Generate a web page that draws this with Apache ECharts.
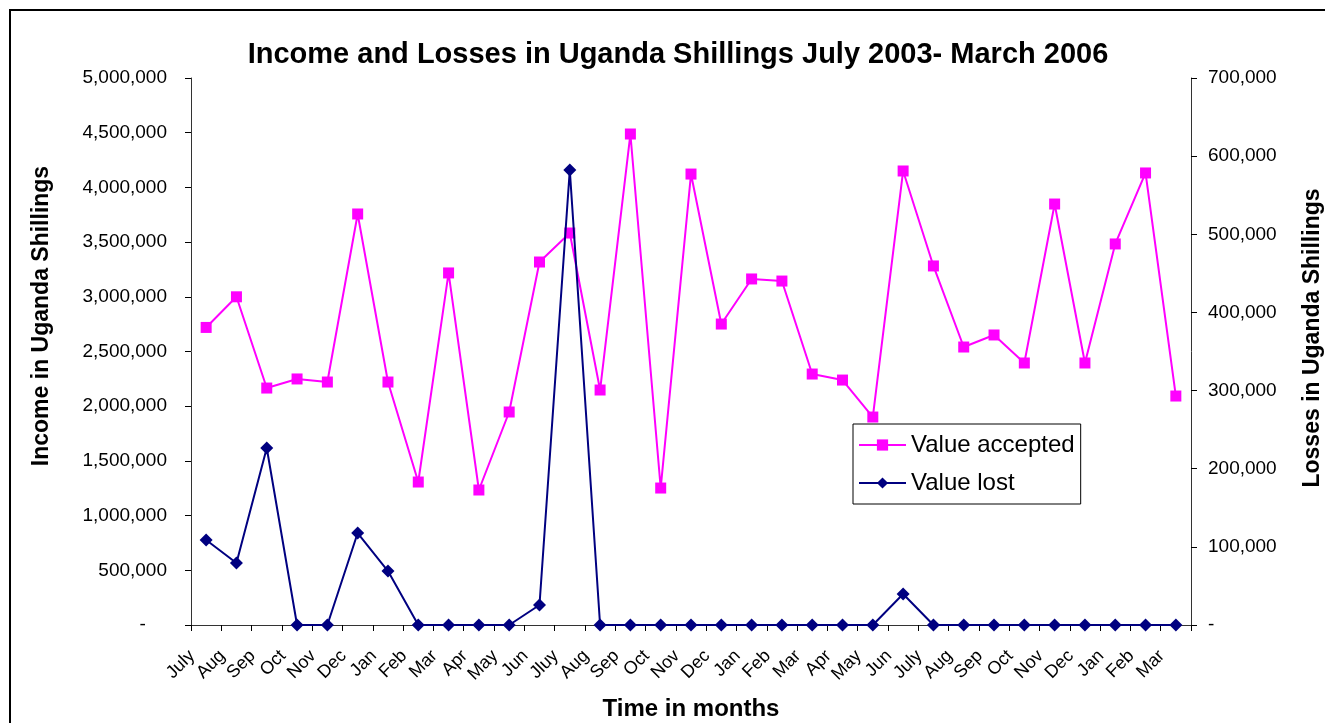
<!DOCTYPE html>
<html><head><meta charset="utf-8">
<script src="https://cdn.jsdelivr.net/npm/echarts@6/dist/echarts.min.js"></script>
<style>html,body{margin:0;padding:0;background:#fff;overflow:hidden;width:1325px;height:723px}#c{width:1325px;height:723px}</style>
</head><body><div id="c"></div>
<script>
const months = ['July','Aug','Sep','Oct','Nov','Dec','Jan','Feb','Mar','Apr','May','Jun','Jluy','Aug','Sep','Oct','Nov','Dec','Jan','Feb','Mar','Apr','May','Jun','July','Aug','Sep','Oct','Nov','Dec','Jan','Feb','Mar'];
const valueAccepted = [2720000,3000000,2166000,2249000,2221000,3757000,2221000,1307000,3218000,1234000,1947000,3318000,3583000,2148000,4488000,1252000,4122000,2751000,3163000,3144000,2294000,2239000,1901000,4150000,3282000,2541000,2651000,2395000,3848000,2395000,3483000,4132000,2093000];
const valueLost = [108800,79300,226500,0,0,117700,69100,0,0,0,0,25600,582300,0,0,0,0,0,0,0,0,0,0,39700,0,0,0,0,0,0,0,0,0];
const leftTicks = {min:0,max:5000000,interval:500000};
const rightTicks = {min:0,max:700000,interval:100000};

const FONT = '"Liberation Sans", Arial, sans-serif';
const fmtL = v => v === 0 ? '-    ' : v.toLocaleString('en-US');
const fmtR = v => v === 0 ? '-' : v.toLocaleString('en-US');
const chart = echarts.init(document.getElementById('c'), null, {width:1325,height:723});
chart.setOption({
  animation:false,
  textStyle:{fontFamily:FONT,color:'#000'},
  title:{text:'Income and Losses in Uganda Shillings July 2003- March 2006',left:673,textAlign:'center',top:35,
    textStyle:{fontFamily:FONT,fontSize:29,fontWeight:'bold',color:'#000'}},
  graphic:[
    {type:'rect',shape:{x:10,y:10,width:1340,height:740},style:{fill:'none',stroke:'#000',lineWidth:2},silent:true},
    {type:'text',x:42,y:316,rotation:Math.PI/2,style:{text:'Income in Uganda Shillings',font:'bold 23px '+FONT,fill:'#000',textAlign:'center',textVerticalAlign:'middle'}},
    {type:'text',x:1313,y:338,rotation:Math.PI/2,style:{text:'Losses in Uganda Shillings',font:'bold 23px '+FONT,fill:'#000',textAlign:'center',textVerticalAlign:'middle'}}
  ],
  legend:{left:853,top:424,orient:'vertical',itemGap:14,padding:[9,6,9,5],borderColor:'#000',borderWidth:1,
    itemWidth:47,itemHeight:14,textStyle:{fontFamily:FONT,fontSize:24,color:'#000'},
    data:['Value accepted','Value lost']},
  grid:{left:191,right:134,top:78,bottom:98,containLabel:false,outerBoundsMode:'none'},
  xAxis:{type:'category',data:months,boundaryGap:true,
    name:'Time in months',nameLocation:'middle',nameGap:72,
    nameTextStyle:{fontFamily:FONT,fontSize:24,fontWeight:'bold',color:'#000'},
    axisLine:{lineStyle:{color:'#333',width:1}},
    axisTick:{show:true,alignWithLabel:false,length:6,lineStyle:{color:'#000'}},
    axisLabel:{rotate:45,interval:0,fontSize:18,color:'#000',margin:14,fontFamily:FONT,formatter:v => v + '    '}},
  yAxis:[
    {type:'value',min:leftTicks.min,max:leftTicks.max,interval:leftTicks.interval,position:'left',
     axisLine:{show:true,lineStyle:{color:'#333'}},axisTick:{show:true,length:6,lineStyle:{color:'#000'}},
     splitLine:{show:false},
     axisLabel:{formatter:fmtL,fontSize:19,color:'#000',margin:24,fontFamily:FONT}},
    {type:'value',min:rightTicks.min,max:rightTicks.max,interval:rightTicks.interval,position:'right',
     axisLine:{show:true,lineStyle:{color:'#333'}},axisTick:{show:true,length:6,lineStyle:{color:'#000'}},
     splitLine:{show:false},
     axisLabel:{formatter:fmtR,fontSize:19,color:'#000',margin:17,fontFamily:FONT}}
  ],
  series:[
    {name:'Value accepted',type:'line',yAxisIndex:0,data:valueAccepted,symbol:'rect',symbolSize:11,
     lineStyle:{color:'#FF00FF',width:2},itemStyle:{color:'#FF00FF'},z:2},
    {name:'Value lost',type:'line',yAxisIndex:1,data:valueLost,symbol:'diamond',symbolSize:13,
     lineStyle:{color:'#000080',width:2},itemStyle:{color:'#000080'},z:3}
  ]
});
</script></body></html>
